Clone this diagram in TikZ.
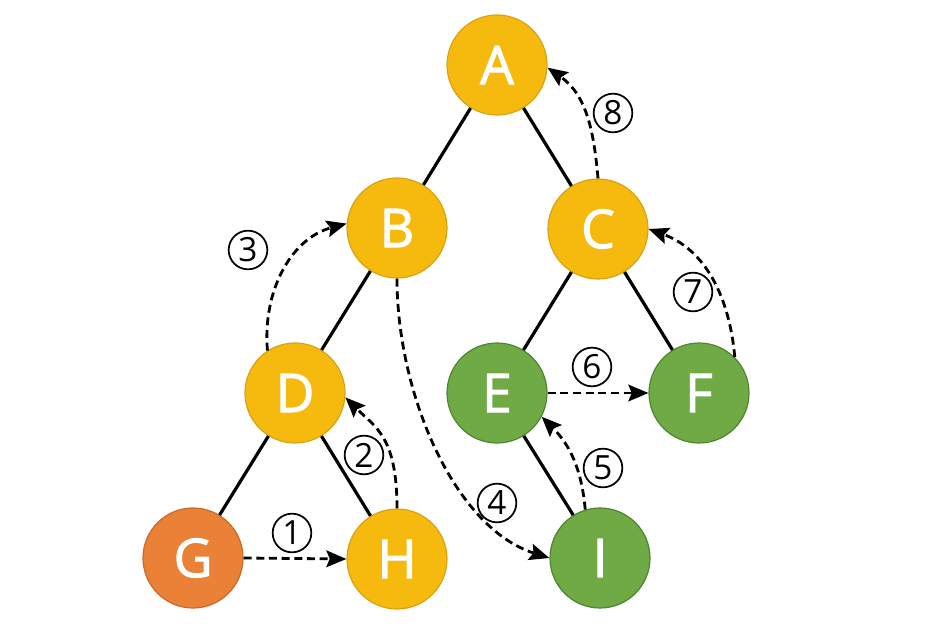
\documentclass[tikz,border=0pt]{standalone}
\usepackage{fontspec}
\setmainfont{Open Sans}
\newfontfamily\vxfont{Open Sans}[RawFeature={embolden=2}]
\usetikzlibrary{arrows.meta}

\definecolor{ambernode}{HTML}{F6B90D}
\definecolor{amberline}{HTML}{D8A312}
\definecolor{greennode}{HTML}{6FAA45}
\definecolor{greenline}{HTML}{4F8431}
\definecolor{orangenode}{HTML}{EA8136}
\definecolor{orangeline}{HTML}{C9692A}

\begin{document}
\begin{tikzpicture}[x=0.75pt,y=0.75pt,
	vertex/.style={circle,minimum size=75pt,inner sep=0pt,line width=0.9pt,text=white,font=\vxfont\fontsize{40}{40}\selectfont},
	ambervx/.style={vertex,fill=ambernode,draw=amberline},
	greenvx/.style={vertex,fill=greennode,draw=greenline},
	orangevx/.style={vertex,fill=orangenode,draw=orangeline},
	treeedge/.style={line width=2.4pt},
	visit/.style={line width=2.1pt,dash pattern=on 6pt off 3.5pt,-{Stealth[length=15pt,width=12.5pt,inset=2.5pt]}},
	stepno/.style={circle,draw,line width=1.3pt,minimum size=29pt,inner sep=0pt,font=\fontsize{25}{25}\selectfont}]
	\useasboundingbox (0,0) rectangle (938,629);
	
	%Shape: Nodes of the tree
	\node [ambervx] (A) at (497,564) {A};
	\node [ambervx] (B) at (397,401) {B};
	\node [ambervx] (C) at (598,400) {C};
	\node [ambervx] (D) at (295,236) {D};
	\node [greenvx] (E) at (497,236) {E};
	\node [greenvx] (F) at (699,236) {F};
	\node [orangevx] (G) at (193,71) {G};
	\node [ambervx] (H) at (397,70) {H};
	\node [greenvx] (I) at (600,71) {I};
	
	%Shape: Edges
	\draw [treeedge] (A) -- (B);
	\draw [treeedge] (A) -- (C);
	\draw [treeedge] (B) -- (D);
	\draw [treeedge] (C) -- (E);
	\draw [treeedge] (C) -- (F);
	\draw [treeedge] (D) -- (G);
	\draw [treeedge] (D) -- (H);
	\draw [treeedge] (E) -- (I);
	
	%Shape: Dashed visiting order
	\draw [visit] (G.east) -- (H.west);
	\draw [visit] (H.north) .. controls +(0,72) and +(30,-30) .. (D.-5);
	\draw [visit] (D.123) to [out=95,in=195] (B.175);
	\draw [visit] (B.south) .. controls +(0,-115) and +(-95,30) .. (I.west);
	\draw [visit] (I.107) to [out=95,in=-45] (E.-28);
	\draw [visit] (E.east) -- (F.west);
	\draw [visit] (F.45) to [out=95,in=-20] (C.east);
	\draw [visit] (C.north) to [out=95,in=-35] (A.-3);
	
	% Text Node
	\node [stepno] (s1) at (292,96) {1};
	% Text Node
	\node [stepno] (s2) at (364,174) {2};
	% Text Node
	\node [stepno] (s3) at (248,379) {3};
	% Text Node
	\node [stepno] (s4) at (497,126) {4};
	% Text Node
	\node [stepno] (s5) at (603,161) {5};
	% Text Node
	\node [stepno] (s6) at (592,262) {6};
	% Text Node
	\node [stepno] (s7) at (693,337) {7};
	% Text Node
	\node [stepno] (s8) at (613,516) {8};
	
\end{tikzpicture}
\end{document}
